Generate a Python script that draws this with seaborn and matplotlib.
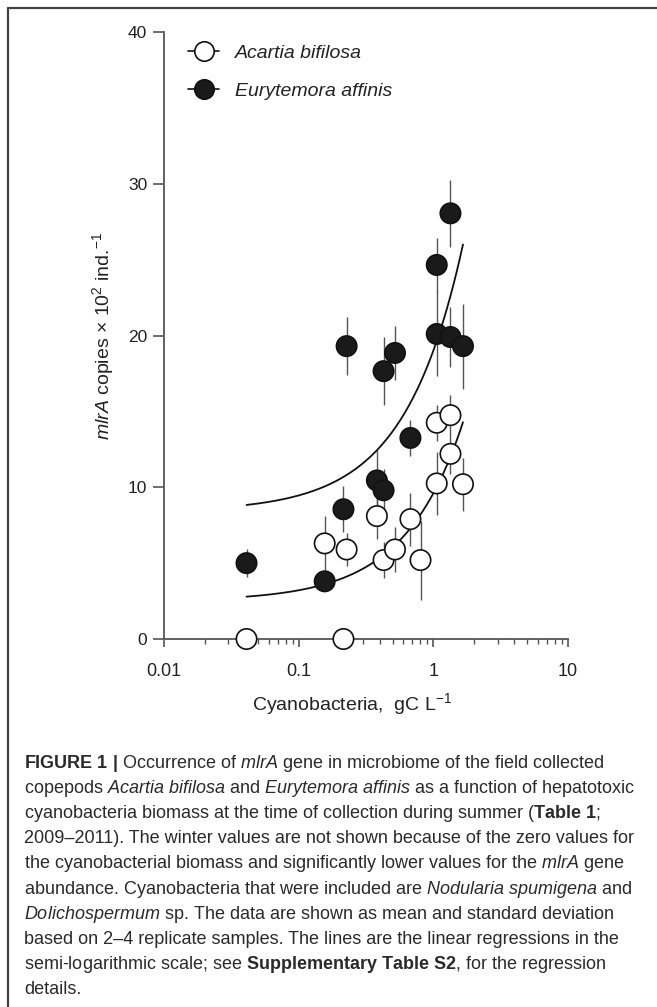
import numpy as np
import pandas as pd
import matplotlib
matplotlib.use("Agg")
import matplotlib.pyplot as plt
import seaborn as sns
from matplotlib.lines import Line2D
from matplotlib.ticker import LogLocator, NullFormatter, FixedLocator, FixedFormatter

# ---------------- data ----------------
acartia_x = [0.041, 0.215, 0.156, 0.227, 0.381, 0.427, 0.519, 0.676, 0.803, 1.06, 1.34, 1.34, 1.06, 1.66]
acartia_y = [0.0, 0.0, 6.3, 5.9, 8.1, 5.2, 5.9, 7.9, 5.2, 14.25, 14.75, 12.2, 10.25, 10.2]
acartia_sd = [0.0, 0.0, 1.8, 1.1, 1.5, 1.2, 1.5, 1.75, 2.6, 1.2, 1.3, 1.3, 2.05, 1.75]

eury_x = [0.041, 0.156, 0.215, 0.227, 0.427, 0.519, 0.381, 0.427, 0.676, 1.06, 1.34, 1.06, 1.34, 1.66]
eury_y = [5.0, 3.8, 8.55, 19.3, 17.65, 18.85, 10.45, 9.8, 13.25, 24.65, 28.05, 20.1, 19.9, 19.3]
eury_sd = [0.9, 0.4, 1.5, 1.9, 2.25, 1.8, 2.0, 1.4, 1.2, 1.8, 2.2, 2.8, 2.0, 2.8]

# linear regressions (y = a + b*x), drawn on semi-log axes
reg_acartia = [2.5, 7.1]
reg_eury = [8.4, 10.6]
reg_range = [0.041, 1.66]

species = ["Acartia bifilosa", "Eurytemora affinis"]
y_ticks = [0, 10, 20, 30, 40]
x_ticks = [0.01, 0.1, 1, 10]
x_ticklabels = ["0.01", "0.1", "1", "10"]

caption_lines = [
    r"$\mathbf{FIGURE\ 1\ |}$ Occurrence of $\mathit{mlrA}$ gene in microbiome of the field collected",
    r"copepods $\mathit{Acartia\ bifilosa}$ and $\mathit{Eurytemora\ affinis}$ as a function of hepatotoxic",
    r"cyanobacteria biomass at the time of collection during summer ($\mathbf{Table\ 1}$;",
    r"2009–2011). The winter values are not shown because of the zero values for",
    r"the cyanobacterial biomass and significantly lower values for the $\mathit{mlrA}$ gene",
    r"abundance. Cyanobacteria that were included are $\mathit{Nodularia\ spumigena}$ and",
    r"$\mathit{Dolichospermum}$ sp. The data are shown as mean and standard deviation",
    r"based on 2–4 replicate samples. The lines are the linear regressions in the",
    r"semi-logarithmic scale; see $\mathbf{Supplementary\ Table\ S2}$, for the regression",
    r"details.",
]

# ---------------- style ----------------
sns.set_style("ticks")
plt.rcParams["font.family"] = ["Liberation Sans", "DejaVu Sans"]
plt.rcParams["mathtext.fontset"] = "custom"
plt.rcParams["mathtext.rm"] = "Liberation Sans"
plt.rcParams["mathtext.it"] = "Liberation Sans:italic"
plt.rcParams["mathtext.bf"] = "Liberation Sans:bold"
plt.rcParams["mathtext.default"] = "regular"

W, H = 657, 1007
fig = plt.figure(figsize=(W / 100, H / 100), dpi=100)
fig.patch.set_facecolor("white")

ax_l, ax_r, ax_t, ax_b = 164, 568, 32, 639
ax = fig.add_axes([ax_l / W, 1 - ax_b / H, (ax_r - ax_l) / W, (ax_b - ax_t) / H])
ax.set_facecolor("white")

df_a = pd.DataFrame({"x": acartia_x, "y": acartia_y, "sd": acartia_sd, "sp": species[0]})
df_e = pd.DataFrame({"x": eury_x, "y": eury_y, "sd": eury_sd, "sp": species[1]})
df = pd.concat([df_a, df_e], ignore_index=True)

# error bars
for d in (df_a, df_e):
    ax.errorbar(d["x"], d["y"], yerr=d["sd"], fmt="none", ecolor="#555555",
                elinewidth=1.0, capsize=0, zorder=2)

# regression lines
xs = np.logspace(np.log10(reg_range[0]), np.log10(reg_range[1]), 200)
for a, b in (reg_eury, reg_acartia):
    sns.lineplot(x=xs, y=a + b * xs, ax=ax, color="#111111", linewidth=1.3,
                 zorder=2.5, sort=False)

# points
sns.scatterplot(data=df, x="x", y="y", hue="sp",
                palette={species[0]: "white", species[1]: "#1a1a1a"},
                edgecolor="#111111", linewidth=1.2, s=215, legend=False,
                ax=ax, zorder=4, clip_on=False)

ax.set_xscale("log")
ax.set_xlim(0.01, 10)
ax.set_ylim(0, 40)
ax.set_yticks(y_ticks)
ax.set_yticklabels([str(t) for t in y_ticks])
ax.xaxis.set_major_locator(FixedLocator(x_ticks))
ax.xaxis.set_major_formatter(FixedFormatter(x_ticklabels))
ax.xaxis.set_minor_locator(LogLocator(base=10, subs=np.arange(2, 10)))
ax.xaxis.set_minor_formatter(NullFormatter())
ax.set_xlabel("")
ax.set_ylabel("")

spine_c = "#555555"
for s in ("top", "right"):
    ax.spines[s].set_visible(False)
for s in ("left", "bottom"):
    ax.spines[s].set_color(spine_c)
    ax.spines[s].set_linewidth(1.3)
ax.tick_params(axis="y", which="major", length=8, width=1.2, color=spine_c,
               labelsize=12.5, labelcolor="#222222", pad=4)
ax.tick_params(axis="x", which="major", length=6, width=1.2, color=spine_c,
               labelsize=13, labelcolor="#222222", pad=11)
ax.tick_params(axis="x", which="minor", length=3.5, width=1.0, color=spine_c)

# axis labels
fig.text(103 / W, 1 - 336 / H, r"$\mathit{mlrA}$ copies × 10$^{2}$ ind.$^{-1}$",
         rotation=90, ha="center", va="center", fontsize=14, color="#222222")
fig.text(352 / W, 1 - 704 / H, r"Cyanobacteria,  gC L$^{-1}$",
         ha="center", va="center", fontsize=14, color="#222222")

# legend
handles = [
    Line2D([], [], color="#111111", linewidth=1.2, marker="o", markersize=14,
           markerfacecolor="white", markeredgecolor="#111111", markeredgewidth=1.2),
    Line2D([], [], color="#111111", linewidth=1.2, marker="o", markersize=14,
           markerfacecolor="#1a1a1a", markeredgecolor="#111111", markeredgewidth=1.2),
]
leg = ax.legend(handles, species, loc="upper left",
                bbox_to_anchor=(188 / W, 1 - 44 / H), bbox_transform=fig.transFigure,
                frameon=False, fontsize=14, handlelength=1.6, handletextpad=0.8,
                labelspacing=1.05, borderpad=0, borderaxespad=0)
for t in leg.get_texts():
    t.set_fontstyle("italic")
    t.set_color("#222222")

# frame lines
fig.add_artist(Line2D([8 / W, 1], [1 - 8 / H, 1 - 8 / H], transform=fig.transFigure,
                      color="#444444", linewidth=1.6))
fig.add_artist(Line2D([8 / W, 8 / W], [0, 1 - 8 / H], transform=fig.transFigure,
                      color="#444444", linewidth=1.6))

# caption
y0, dy = 763, 25.2
for i, line in enumerate(caption_lines):
    fig.text(24 / W, 1 - (y0 + i * dy) / H, line, ha="left", va="center",
             fontsize=13, color="#2a2a2a")

fig.savefig("out.png", dpi=100, facecolor="white")
